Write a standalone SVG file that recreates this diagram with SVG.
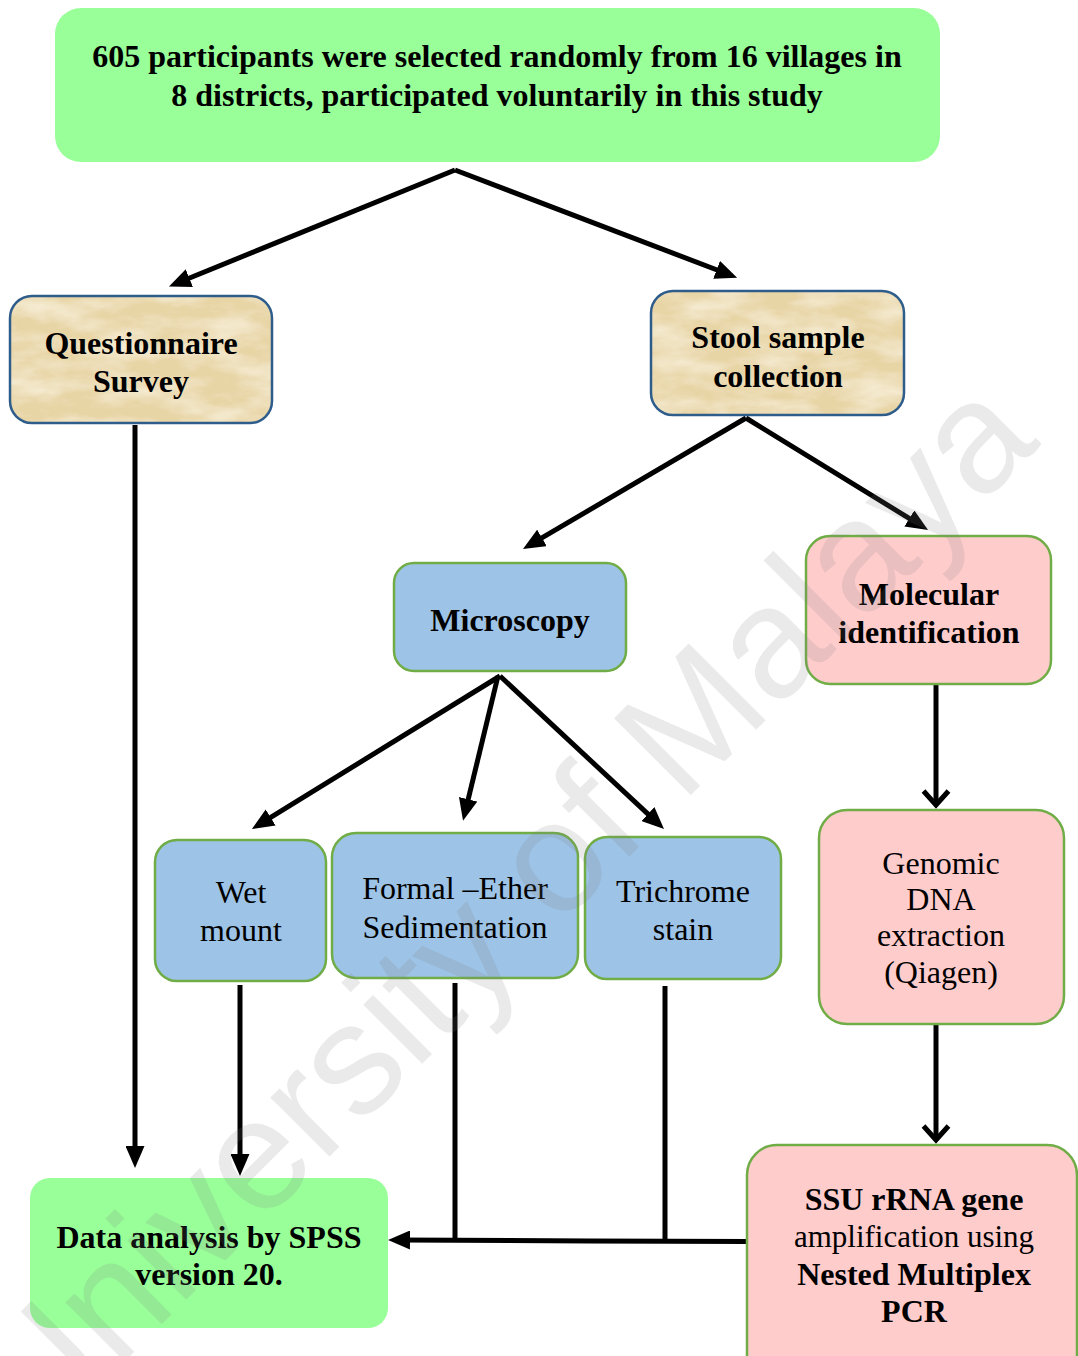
<svg xmlns="http://www.w3.org/2000/svg" width="1078" height="1356" viewBox="0 0 1078 1356">
<style>
  .t { font-family: "Liberation Serif", "Times New Roman", serif; font-size: 32px; fill: #000; text-anchor: middle; }
  .b { font-weight: bold; }
  .green { fill: #99ff99; }
  .blue { fill: #9dc3e6; stroke: #70ad47; stroke-width: 2.5; }
  .pink { fill: #ffcccc; stroke: #70ad47; stroke-width: 2.5; }
  .tanb { fill: none; stroke: #2e5d8c; stroke-width: 2.5; }
  .ln { stroke: #000; stroke-width: 5; fill: none; }
  .arr { marker-end: url(#ah); }
  .chev { marker-end: url(#cv); }
  .wm { font-family: "Liberation Sans", Arial, sans-serif; font-size: 158px; fill: #7a7a7a; fill-opacity: 0.16; }
</style>
<defs>
  <marker id="ah" viewBox="0 0 22 19" refX="9" refY="9.5" markerWidth="22" markerHeight="19" markerUnits="userSpaceOnUse" orient="auto">
    <path d="M0,0 L22,9.5 L0,19 z" fill="#000"/>
  </marker>
  <marker id="cv" viewBox="-3 -3 21 31" refX="14" refY="12.5" markerWidth="21" markerHeight="31" markerUnits="userSpaceOnUse" orient="auto">
    <path d="M0,0 L14,12.5 L0,25" fill="none" stroke="#000" stroke-width="5"/>
  </marker>
  <filter id="parch" x="0" y="0" width="1" height="1">
    <feFlood flood-color="#e8d5a6" result="base"/>
    <feTurbulence type="fractalNoise" baseFrequency="0.02 0.05" numOctaves="4" seed="11" result="noise"/>
    <feColorMatrix in="noise" type="matrix" values="0 0 0 0 1  0 0 0 0 0.96  0 0 0 0 0.84  1.1 0 0 0 -0.38" result="light"/>
    <feComposite in="light" in2="base" operator="over" result="tex"/>
    <feComposite in="tex" in2="SourceGraphic" operator="in"/>
  </filter>
</defs>

<g id="connectors">
  <line class="ln arr" x1="455" y1="170" x2="181" y2="281.5"/>
  <line class="ln arr" x1="455" y1="170" x2="725" y2="273"/>
  <line class="ln arr" x1="746" y1="418" x2="534.2" y2="542.4"/>
  <line class="ln arr" x1="746" y1="418" x2="917" y2="523.2"/>
  <line class="ln arr" x1="500" y1="676" x2="263" y2="822.2"/>
  <line class="ln arr" x1="498" y1="676" x2="466.1" y2="808"/>
  <line class="ln arr" x1="500" y1="676" x2="654.5" y2="820.2"/>
  <line class="ln arr" x1="135" y1="425" x2="135" y2="1155"/>
  <line class="ln arr" x1="240" y1="985" x2="240" y2="1163"/>
  <line class="ln" x1="455" y1="983" x2="455" y2="1242"/>
  <line class="ln" x1="665" y1="986" x2="665" y2="1242"/>
  <polyline class="ln arr" points="748,1241.5 590,1241 401,1240"/>
  <line class="ln chev" x1="936" y1="684" x2="936" y2="805"/>
  <line class="ln chev" x1="936" y1="1025" x2="936" y2="1140"/>
</g>

<g id="n-participants">
  <rect class="green" x="55" y="8" width="885" height="154" rx="26"/>
  <text class="t b" x="497" y="67">605 participants were selected randomly from 16 villages in</text>
  <text class="t b" x="497" y="106">8 districts, participated voluntarily in this study</text>
</g>

<g id="n-questionnaire">
  <rect x="10" y="296" width="262" height="127" rx="22" fill="#e8d5a6" filter="url(#parch)"/>
  <rect class="tanb" x="10" y="296" width="262" height="127" rx="22"/>
  <text class="t b" x="141" y="354">Questionnaire</text>
  <text class="t b" x="141" y="392">Survey</text>
</g>

<g id="n-stool">
  <rect x="651" y="291" width="253" height="124" rx="22" fill="#e8d5a6" filter="url(#parch)"/>
  <rect class="tanb" x="651" y="291" width="253" height="124" rx="22"/>
  <text class="t b" x="778" y="348">Stool sample</text>
  <text class="t b" x="778" y="387">collection</text>
</g>

<g id="n-microscopy">
  <rect class="blue" x="394" y="563" width="232" height="108" rx="20"/>
  <text class="t b" x="510" y="631">Microscopy</text>
</g>

<g id="n-molecular">
  <rect class="pink" x="806" y="536" width="245" height="148" rx="24"/>
  <text class="t b" x="929" y="605">Molecular</text>
  <text class="t b" x="929" y="643">identification</text>
</g>

<g id="n-wetmount">
  <rect class="blue" x="155" y="840" width="171" height="141" rx="22"/>
  <text class="t" x="241" y="903">Wet</text>
  <text class="t" x="241" y="941">mount</text>
</g>

<g id="n-formal">
  <rect class="blue" x="332" y="833" width="246" height="145" rx="24"/>
  <text class="t" x="455" y="899">Formal –Ether</text>
  <text class="t" x="455" y="938">Sedimentation</text>
</g>

<g id="n-trichrome">
  <rect class="blue" x="585" y="837" width="196" height="142" rx="22"/>
  <text class="t" x="683" y="902">Trichrome</text>
  <text class="t" x="683" y="940">stain</text>
</g>

<g id="n-genomic">
  <rect class="pink" x="819" y="810" width="245" height="214" rx="28"/>
  <text class="t" x="941" y="874">Genomic</text>
  <text class="t" x="941" y="910">DNA</text>
  <text class="t" x="941" y="946">extraction</text>
  <text class="t" x="941" y="983">(Qiagen)</text>
</g>

<g id="n-ssu">
  <rect class="pink" x="747" y="1145" width="330" height="240" rx="30"/>
  <text class="t b" x="914" y="1210">SSU rRNA gene</text>
  <text class="t" x="914" y="1247" style="font-size:31px">amplification using</text>
  <text class="t b" x="914" y="1285">Nested Multiplex</text>
  <text class="t b" x="914" y="1322">PCR</text>
</g>

<g id="n-data">
  <rect class="green" x="30" y="1178" width="358" height="150" rx="20"/>
  <text class="t b" x="209" y="1248">Data analysis by SPSS</text>
  <text class="t b" x="209" y="1285">version 20.</text>
</g>

<text class="wm" transform="translate(36,1450) rotate(-45)">University of Malaya</text>
</svg>
